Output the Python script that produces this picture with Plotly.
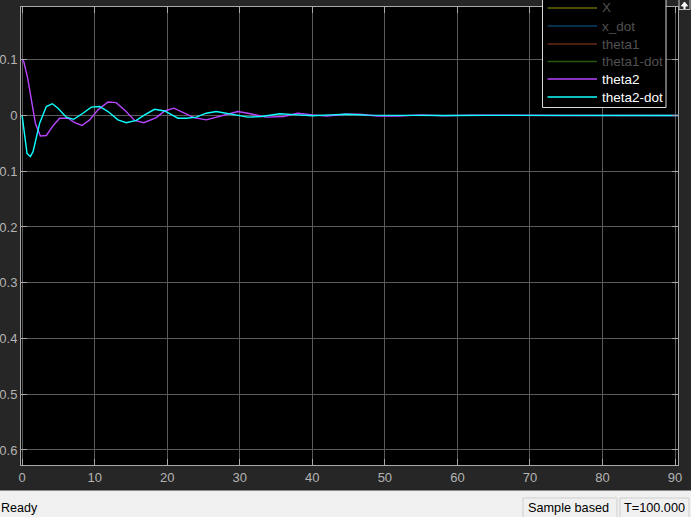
import plotly.graph_objects as go

# ---------------- data ----------------
t_theta2 = [0, 0.22, 0.77, 1.83, 2.52, 3.34, 4.35, 5.18, 6.33, 7.25, 8.26, 9.31, 10.46, 11.84,
            12.98, 14.27, 15.51, 16.79, 18.49, 19.64, 20.93, 22.26, 23.68, 25.38, 26.76, 28.27,
            29.74, 31.12, 33.6, 36.0, 38.0, 40.0, 42.0, 44.5, 46.5, 49.0, 52.0, 55.0, 58.0,
            62.0, 66.0, 70.0, 75.0, 80.0, 85.0, 90.5]
theta2 = [0.100, 0.097, 0.067, -0.014, -0.037, -0.036, -0.017, -0.005, -0.005, -0.013, -0.018,
          -0.008, 0.010, 0.024, 0.023, 0.008, -0.009, -0.013, -0.004, 0.008, 0.013, 0.005,
          -0.004, -0.008, -0.003, 0.002, 0.007, 0.004, -0.003, -0.002, 0.004, 0.001, -0.001,
          0.002, 0.002, -0.001, -0.001, 0.001, -0.0005, 0.0005, 0.0, 0.0003, 0.0, 0.0, 0.0, 0.0]

t_theta2_dot = [0, 0.68, 1.14, 1.51, 2.42, 3.34, 4.17, 4.95, 6.10, 7.11, 8.39, 9.54, 10.69,
                11.84, 13.21, 14.36, 15.74, 16.89, 18.26, 19.64, 21.48, 22.63, 24.0, 25.38,
                26.76, 28.14, 29.51, 31.12, 33.0, 35.5, 38.0, 40.0, 42.5, 44.7, 47.5, 51.0,
                55.0, 59.0, 64.0, 70.0, 78.0, 90.5]
theta2_dot = [0.0, -0.068, -0.074, -0.065, -0.014, 0.016, 0.021, 0.013, -0.003, -0.007, 0.004,
              0.015, 0.016, 0.007, -0.008, -0.013, -0.009, 0.001, 0.011, 0.008, -0.005, -0.005,
              -0.003, 0.004, 0.007, 0.004, 0.000, -0.003, -0.002, 0.003, 0.001, -0.0005, 0.001,
              0.002, 0.0005, 0.0, 0.0005, 0.0, 0.0002, 0.0, 0.0, 0.0]

series_names = ["X", "x_dot", "theta1", "theta1-dot", "theta2", "theta2-dot"]
series_colors = ["#666604", "#073f66", "#662a10", "#285507", "#b845ff", "#10ffff"]
series_text_colors = ["#505050", "#505050", "#505050", "#505050", "#ffffff", "#ffffff"]

x_ticks = [0, 10, 20, 30, 40, 50, 60, 70, 80, 90]
y_ticks = [0.1, 0, -0.1, -0.2, -0.3, -0.4, -0.5, -0.6]
y_ticktext = ["0.1", "0", "-0.1", "-0.2", "-0.3", "-0.4", "-0.5", "-0.6"]

status_left = "Ready"
status_mode = "Sample based"
status_time = "T=100.000"

# ---------------- figure ----------------
W, H = 691, 517
L, R, T, B = 21, 678, 7, 465


def px(x):
    return (x - L) / (R - L)


def py(y):
    return (B - y) / (B - T)


fig = go.Figure()
fig.add_trace(go.Scatter(x=t_theta2, y=theta2, mode="lines",
                         line=dict(color=series_colors[4], width=1.4), name=series_names[4]))
fig.add_trace(go.Scatter(x=t_theta2_dot, y=theta2_dot, mode="lines",
                         line=dict(color=series_colors[5], width=1.4), name=series_names[5]))

font = "Liberation Sans, Arial, sans-serif"
axcol = "#a8a8a8"
gridcol = "#5a5a5a"

fig.update_layout(
    width=W, height=H,
    margin=dict(l=L, r=W - R, t=T, b=H - B, pad=0),
    paper_bgcolor="#262626", plot_bgcolor="#000000",
    showlegend=False,
    font=dict(family=font, size=13, color="#b4b4b4"),
    xaxis=dict(range=[-0.15, 90.4], tickvals=x_ticks, showgrid=True, gridcolor=gridcol,
               gridwidth=1, zeroline=False, showline=True, linecolor=axcol, linewidth=1,
               mirror="ticks", ticks="inside", ticklen=6, tickcolor=axcol,
               automargin=False, tickfont=dict(size=13, color="#b4b4b4")),
    yaxis=dict(range=[-0.627, 0.1945], tickvals=y_ticks, ticktext=y_ticktext, showgrid=True,
               gridcolor=gridcol, gridwidth=1, zeroline=False, showline=True,
               linecolor=axcol, linewidth=1, mirror="ticks", ticks="inside", ticklen=6,
               tickcolor=axcol, automargin=False, tickfont=dict(size=13, color="#b4b4b4")),
)

shapes = []
annotations = []

# legend box
shapes.append(dict(type="rect", xref="paper", yref="paper",
                   x0=px(542.5), x1=px(666), y0=py(107.5), y1=py(-2),
                   fillcolor="#000000", line=dict(color="#d8d8d8", width=1)))
row_y = [8, 26, 44, 61.5, 79, 97]
for i, name in enumerate(series_names):
    shapes.append(dict(type="line", xref="paper", yref="paper",
                       x0=px(547.5), x1=px(597), y0=py(row_y[i]), y1=py(row_y[i]),
                       line=dict(color=series_colors[i], width=1.5)))
    annotations.append(dict(text=name, xref="paper", yref="paper", x=px(600), y=py(row_y[i]),
                            xanchor="left", yanchor="middle", showarrow=False,
                            font=dict(family=font, size=13.5, color=series_text_colors[i])))

# top-right button
shapes.append(dict(type="rect", xref="paper", yref="paper",
                   x0=px(679), x1=px(690), y0=py(9.5), y1=py(-2),
                   fillcolor="#2e2e2e", line=dict(color="#bdbdbd", width=1)))
shapes.append(dict(type="path", xref="paper", yref="paper",
                   path=f"M {px(681.5)} {py(6)} L {px(684.5)} {py(2)} L {px(687.5)} {py(6)} Z",
                   fillcolor="#ffffff", line=dict(color="#ffffff", width=1)))
shapes.append(dict(type="line", xref="paper", yref="paper",
                   x0=px(684.5), x1=px(684.5), y0=py(5), y1=py(9),
                   line=dict(color="#ffffff", width=2)))

# status bar
shapes.append(dict(type="rect", xref="paper", yref="paper",
                   x0=px(-2), x1=px(W + 2), y0=py(H + 2), y1=py(490.5),
                   fillcolor="#f0f0f0", line=dict(width=0)))
shapes.append(dict(type="rect", xref="paper", yref="paper",
                   x0=px(523), x1=px(617), y0=py(H + 2), y1=py(498),
                   fillcolor="#f0f0f0", line=dict(color="#cfcfcf", width=1)))
shapes.append(dict(type="rect", xref="paper", yref="paper",
                   x0=px(620), x1=px(689), y0=py(H + 2), y1=py(498),
                   fillcolor="#f0f0f0", line=dict(color="#cfcfcf", width=1)))
annotations.append(dict(text=status_left, xref="paper", yref="paper", x=px(-1), y=py(508),
                        xanchor="left", yanchor="middle", showarrow=False,
                        font=dict(family=font, size=12.5, color="#000000")))
annotations.append(dict(text=status_mode, xref="paper", yref="paper", x=px(526), y=py(508),
                        xanchor="left", yanchor="middle", showarrow=False,
                        font=dict(family=font, size=12.7, color="#000000")))
annotations.append(dict(text=status_time, xref="paper", yref="paper", x=px(622), y=py(508),
                        xanchor="left", yanchor="middle", showarrow=False,
                        font=dict(family=font, size=12.7, color="#000000")))

fig.update_layout(shapes=shapes, annotations=annotations)
fig.write_html("out.html", config={"displayModeBar": False},
               post_script="document.body.style.margin='0';document.body.style.overflow='hidden';")
